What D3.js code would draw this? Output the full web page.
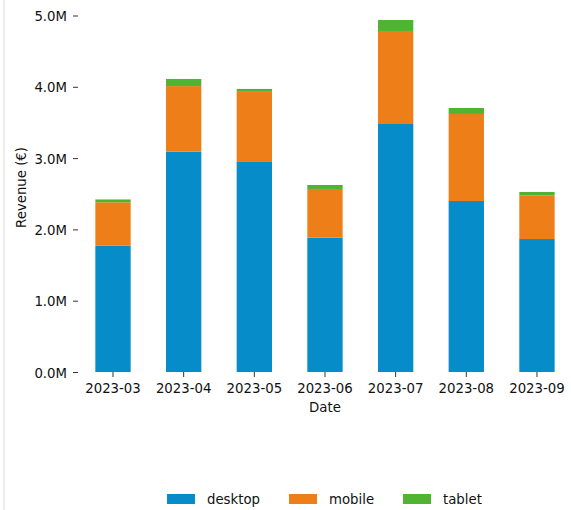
<!DOCTYPE html>
<html>
<head>
<meta charset="utf-8">
<script src="https://cdn.jsdelivr.net/npm/d3@7"></script>
<style>
  html, body { margin: 0; padding: 0; background: #fff; }
  svg { display: block; }
  text { font-family: "DejaVu Sans", sans-serif; }
</style>
</head>
<body>
<svg id="chart" width="571" height="510"></svg>
<script>
const categories = ["2023-03", "2023-04", "2023-05", "2023-06", "2023-07", "2023-08", "2023-09"];
const seriesNames = ["desktop", "mobile", "tablet"];
const desktop = [1770000, 3090000, 2945000, 1884000, 3478000, 2398000, 1865000];
const mobile  = [ 610000,  920000,  995000,  683000, 1305000, 1221000,  613000];
const tablet  = [  40000,  100000,   30000,   56000,  154000,   84000,   47000];
const yTicks = [0, 1000000, 2000000, 3000000, 4000000, 5000000];
const colors = ["#068cc8", "#ee7f18", "#50b432"];

const svg = d3.select("#chart");
const W = 571, H = 510;
const fontSize = 13.3;

// left frame line
svg.append("rect").attr("x", 3).attr("y", 0).attr("width", 2).attr("height", H).attr("fill", "#ededed");

const x = d3.scaleBand().domain(categories).range([77.67, 572.3]).paddingInner(0.5).paddingOuter(0.25);
const y = d3.scaleLinear().domain([0, 5000000]).range([372, 15.5]);

const table = categories.map((c, i) => ({ cat: c, desktop: desktop[i], mobile: mobile[i], tablet: tablet[i] }));
const stacked = d3.stack().keys(seriesNames)(table);

const g = svg.append("g");
g.selectAll("g.series").data(stacked).join("g")
  .attr("class", "series")
  .attr("fill", (d, i) => colors[i])
  .selectAll("rect").data(d => d).join("rect")
  .attr("x", d => x(d.data.cat))
  .attr("width", x.bandwidth())
  .attr("y", d => y(d[1]))
  .attr("height", d => y(d[0]) - y(d[1]));

// y axis
const yAxis = d3.axisLeft(y).tickValues(yTicks).tickSize(5).tickPadding(6)
  .tickFormat(d => (d / 1e6).toFixed(1) + "M");
const ya = svg.append("g").attr("transform", "translate(78,0)").call(yAxis);
ya.select(".domain").remove();
ya.selectAll("line").attr("stroke", "#333").attr("stroke-width", 1);
ya.selectAll("text").attr("font-size", fontSize).attr("fill", "#111").attr("dy", "0.38em")
  .attr("font-family", "DejaVu Sans");

// x axis
const xAxis = d3.axisBottom(x).tickSize(5).tickPadding(6);
const xa = svg.append("g").attr("transform", "translate(0,372)").call(xAxis);
xa.select(".domain").remove();
xa.selectAll("line").attr("stroke", "#333").attr("stroke-width", 1);
xa.selectAll("text").attr("font-size", fontSize).attr("fill", "#111")
  .attr("font-family", "DejaVu Sans").attr("y", 20.7).attr("dy", 0);

// axis titles
svg.append("text").attr("x", 325).attr("y", 411.5).attr("text-anchor", "middle")
  .attr("font-size", fontSize).attr("fill", "#111").text("Date");
svg.append("text").attr("transform", "translate(26,187.5) rotate(-90)").attr("text-anchor", "middle")
  .attr("font-size", fontSize).attr("fill", "#111").text("Revenue (€)");

// legend
const legendX = [167, 289, 403];
const lg = svg.append("g");
seriesNames.forEach((s, i) => {
  lg.append("rect").attr("x", legendX[i]).attr("y", 494).attr("width", 28).attr("height", 10).attr("fill", colors[i]);
  lg.append("text").attr("x", legendX[i] + 40).attr("y", 503.5).attr("font-size", fontSize)
    .attr("fill", "#111").text(s);
});
</script>
</body>
</html>
